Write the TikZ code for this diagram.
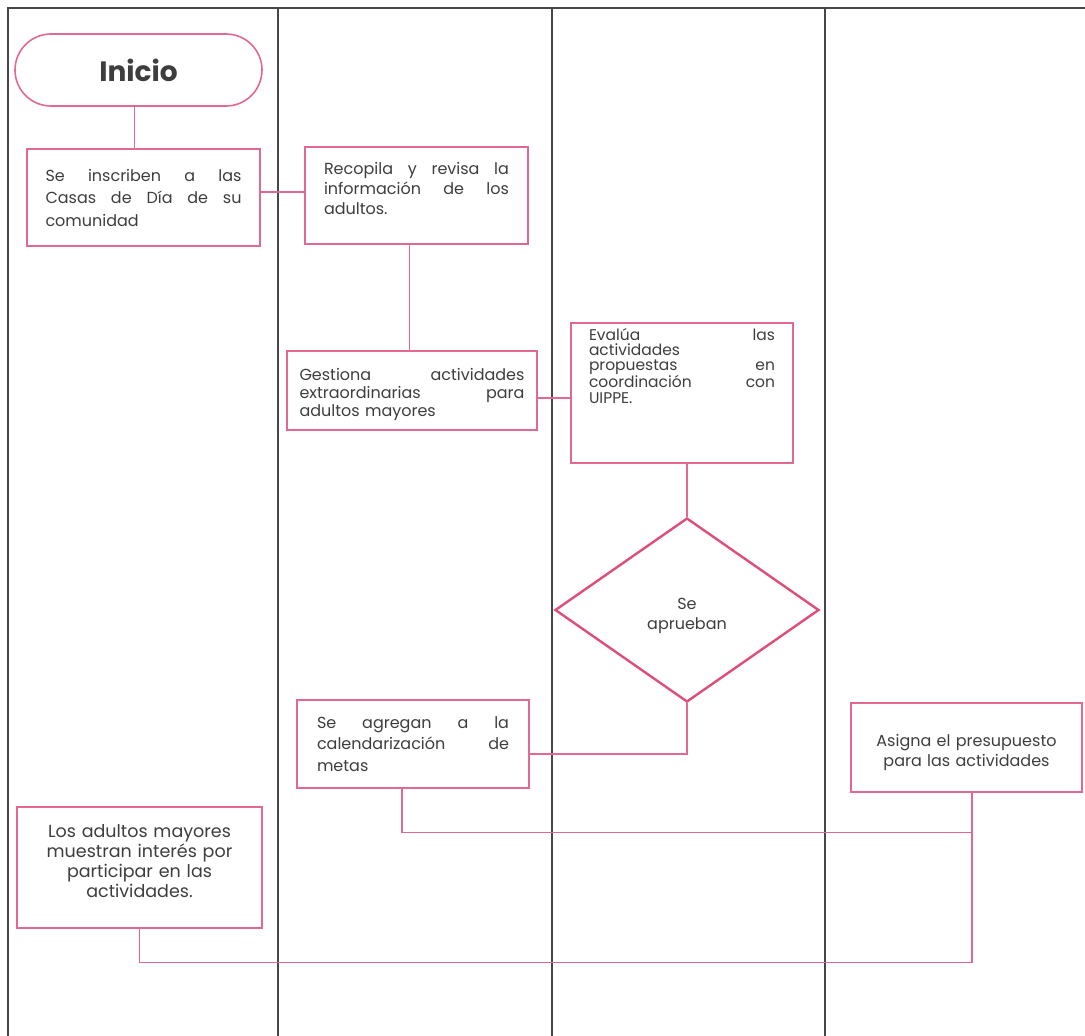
\documentclass[tikz,border=0pt]{standalone}
\usepackage{fontspec}
\setmainfont{Poppins}
\usetikzlibrary{shapes.geometric}
\definecolor{pk}{RGB}{226,104,146}
\definecolor{pkd}{RGB}{222,78,120}
\definecolor{lanec}{RGB}{70,70,70}
\definecolor{txt}{RGB}{62,62,62}
\lineskiplimit=-20pt
\tikzset{
  lane/.style={draw=lanec, line width=1.4pt},
  box/.style={draw=pk, line width=1.6pt, text=txt, inner sep=0pt, fill=white},
  conn/.style={draw=pk, line width=1.3pt},
  term/.style={draw=pk, line width=1.6pt, text=txt, rounded corners=36pt, inner sep=0pt,
    minimum width=247pt, minimum height=72pt, font=\fontsize{28}{32}\selectfont\bfseries},
  decision/.style={draw=pkd, line width=2.4pt, shape=diamond, text=txt, inner sep=0pt,
    minimum width=264pt, minimum height=184pt, align=center},
}
\begin{document}
\begin{tikzpicture}[x=1pt,y=-1pt]
\useasboundingbox (0,0) rectangle (1085,1036);
% frame and lanes
\draw[lane] (8,1036) -- (8,8) -- (1085,8);
\draw[lane] (278,8) -- (278,1036);
\draw[lane] (552,8) -- (552,1036);
\draw[lane] (825,8) -- (825,1036);

\node[term] (inicio) at (138.5,70) {Inicio};

\node[box, minimum width=233pt, minimum height=97pt, text width=196pt, align=left,
  font=\fontsize{16}{22.5}\selectfont] (b1) at (143.5,197.5)
  {Se\hfill inscriben\hfill a\hfill las\\Casas\hfill de\hfill Día\hfill de\hfill su\\comunidad};

\node[box, minimum width=223pt, minimum height=97pt, text width=185pt, align=left,
  font=\fontsize{16}{20}\selectfont] (b2) at (416.5,195.5)
  {Recopila\hfill y\hfill revisa\hfill la\\información\hfill de\hfill los\\adultos.\rule[-14pt]{0pt}{14pt}};

\node[box, minimum width=250pt, minimum height=79pt, text width=225pt, align=left,
  font=\fontsize{16}{18}\selectfont] (b3) at (412,390.5)
  {\rule{0pt}{20pt}Gestiona\hfill actividades\\extraordinarias\hfill para\\adultos mayores};

\node[box, minimum width=222pt, minimum height=140pt] (b4) at (682,393)
  {\parbox[c][130pt][t]{186pt}{\fontsize{15.5}{15.3}\selectfont
   Evalúa\hfill las\\actividades\\propuestas\hfill en\\coordinación\hfill con\\UIPPE.}};

\node[decision, font=\fontsize{16}{20}\selectfont] (d) at (687,610) {\rule{0pt}{24pt}Se\\aprueban};

\node[box, minimum width=232pt, minimum height=88pt, text width=192pt, align=left,
  font=\fontsize{16}{21.5}\selectfont] (b5) at (413,744)
  {Se\hfill agregan\hfill a\hfill la\\calendarización\hfill de\\metas};

\node[box, minimum width=231pt, minimum height=89pt, text width=215pt, align=center,
  font=\fontsize{16}{20}\selectfont] (b6) at (966.5,747.5)
  {\rule{0pt}{22pt}Asigna el presupuesto\\para las actividades};

\node[box, minimum width=245pt, minimum height=121pt, text width=230pt, align=center,
  font=\fontsize{17.5}{20}\selectfont] (b7) at (139.5,867.5)
  {Los adultos mayores\\muestran interés por\\participar en las\\actividades.\rule[-12pt]{0pt}{12pt}};

% connectors
\draw[conn] ([xshift=-4pt]inicio.south) -- ([xshift=-4pt]inicio.south |- b1.north);
\draw[conn] ([yshift=5.5pt]b1.east) -- ([yshift=5.5pt]b1.east -| b2.west);
\draw[conn] ([xshift=-7pt]b2.south) -- ([xshift=-7pt]b2.south |- b3.north);
\draw[conn] ([yshift=-7.5pt]b3.east) -- ([yshift=-7.5pt]b3.east -| b4.west);
\draw[conn] (d.north |- b4.south) -- (d.north);
\draw[conn] (d.south) |- ([yshift=-10pt]b5.east);
\draw[conn] ([xshift=-11pt]b5.south) -- ++(0,44) -| ([xshift=5.5pt]b6.south);
\draw[conn] (b7.south) -- ++(0,34) -| ([xshift=5.5pt]b6.south);
\end{tikzpicture}
\end{document}
